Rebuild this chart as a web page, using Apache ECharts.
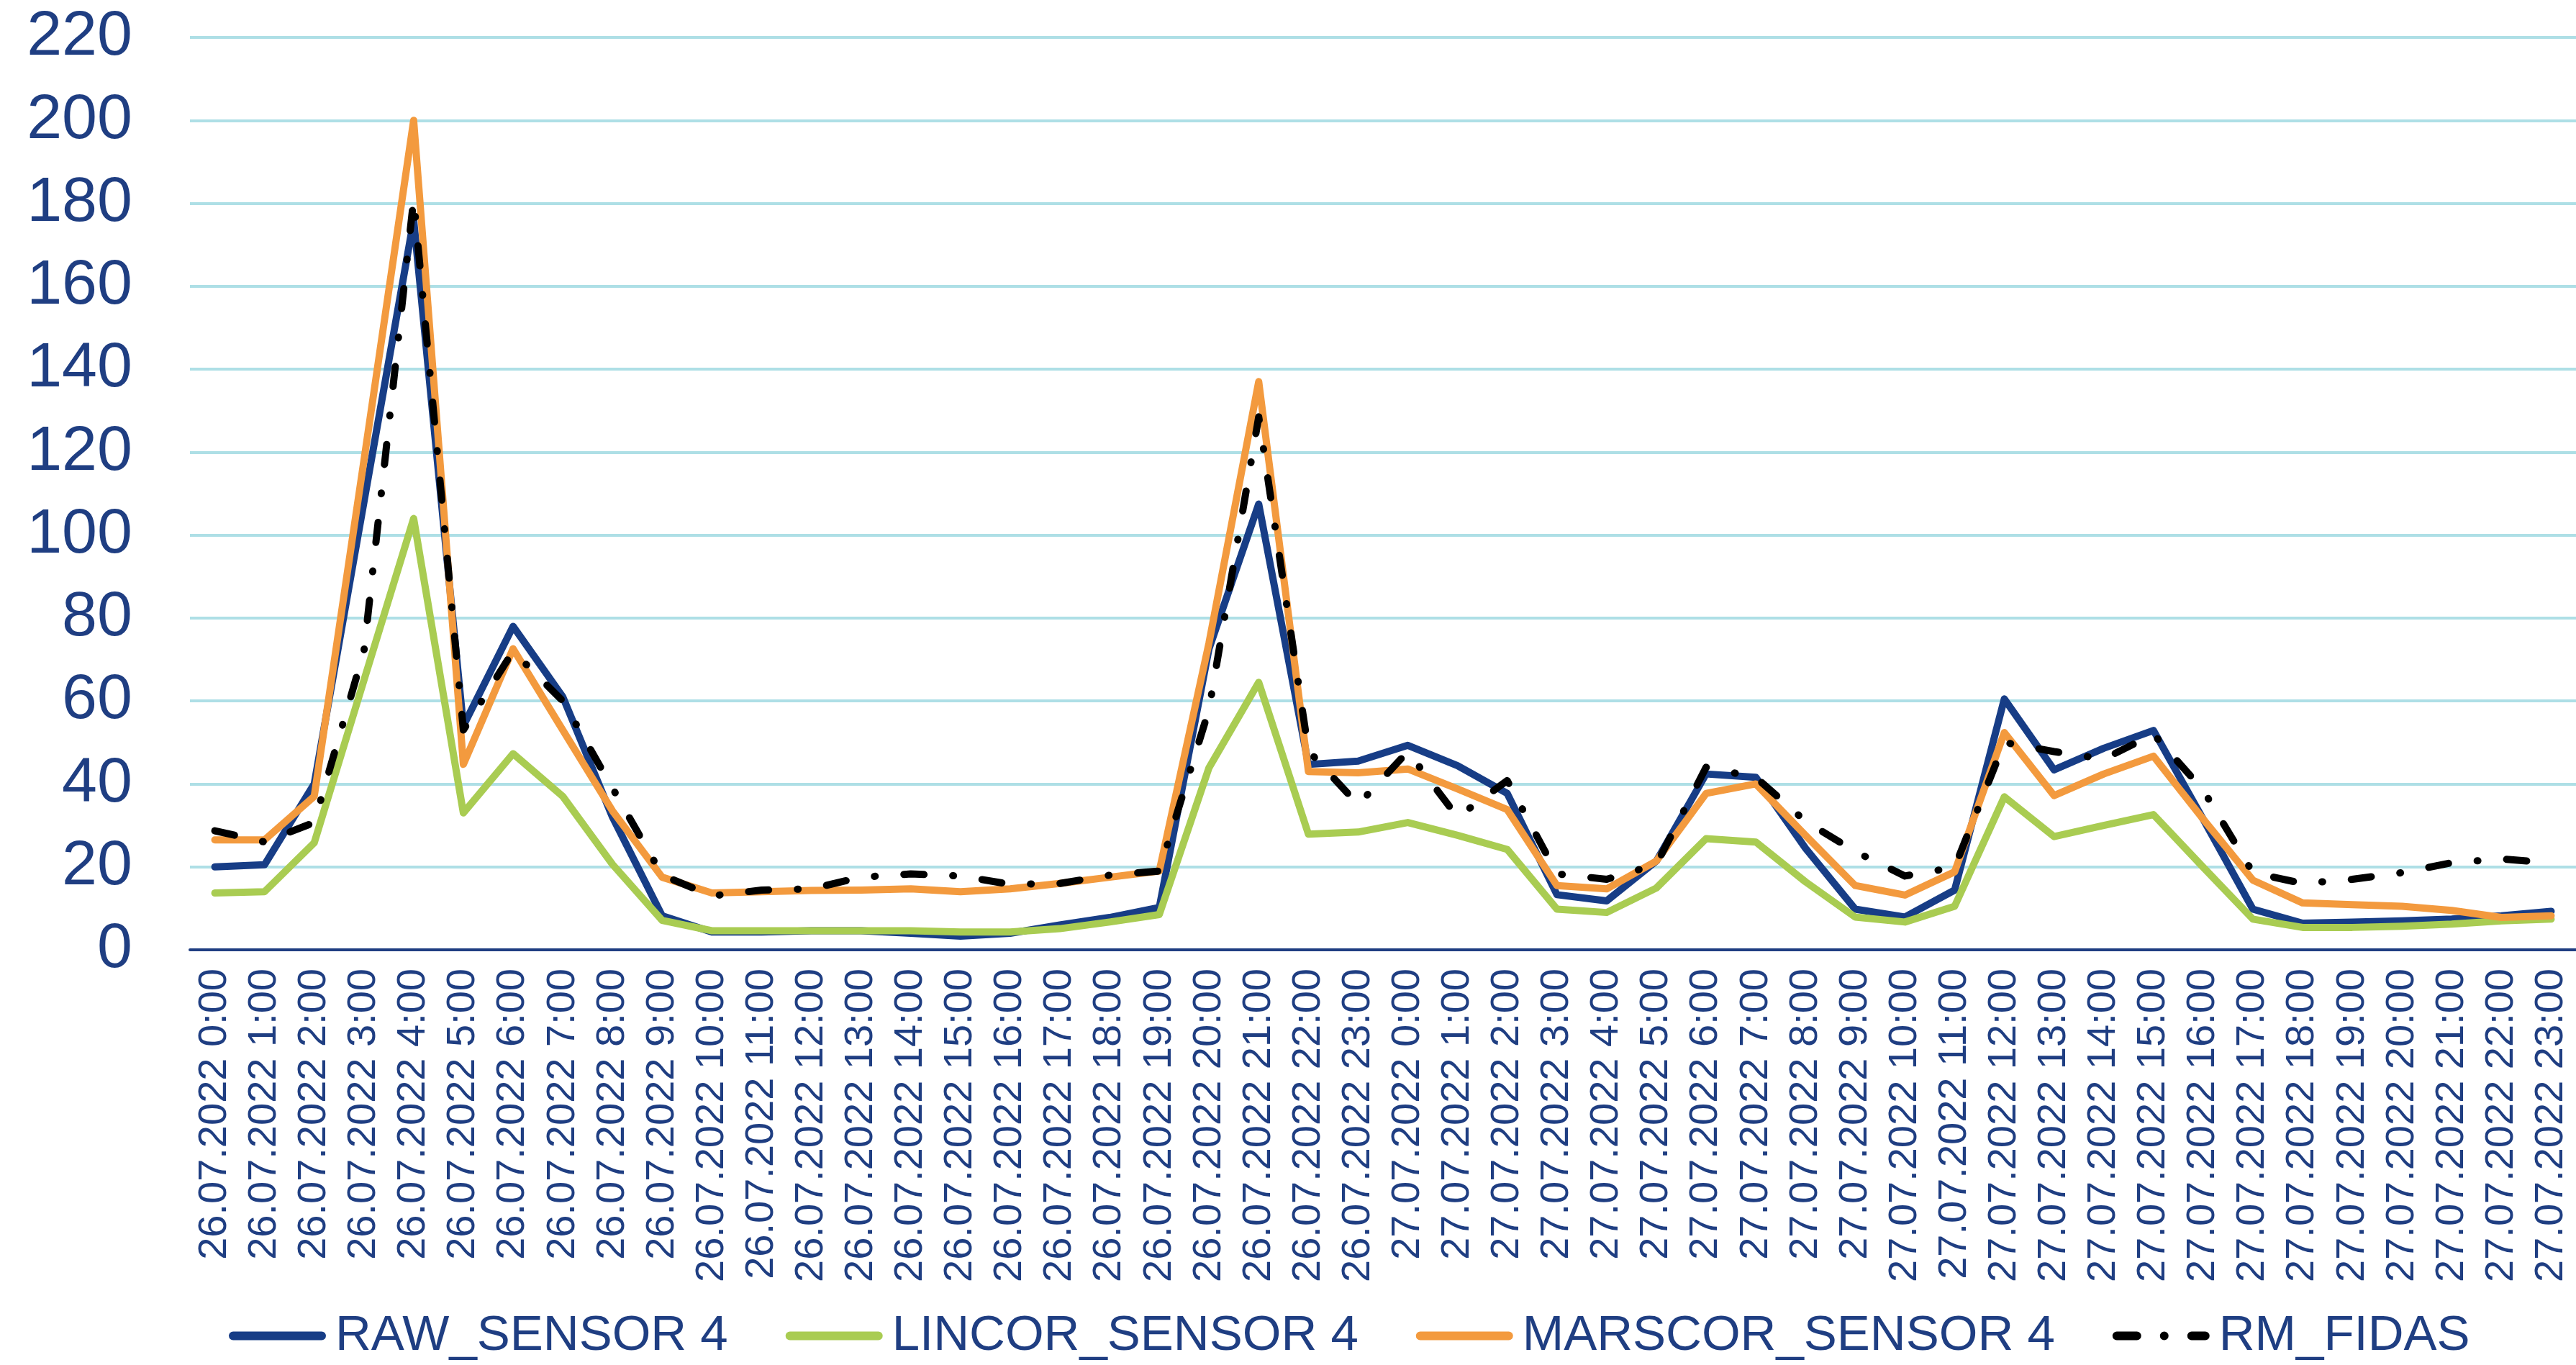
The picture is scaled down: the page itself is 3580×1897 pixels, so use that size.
<!DOCTYPE html>
<html>
<head>
<meta charset="utf-8">
<script src="https://cdn.jsdelivr.net/npm/echarts@6/dist/echarts.min.js"></script>
<style>
  html, body { margin: 0; padding: 0; background: #ffffff; }
  #chart { width: 3580px; height: 1897px; }
</style>
</head>
<body>
<div id="chart"></div>
<script>
// Hourly timestamps, 26.07.2022 0:00 – 27.07.2022 23:00
const categories = [
  '26.07.2022 0:00', '26.07.2022 1:00', '26.07.2022 2:00', '26.07.2022 3:00',
  '26.07.2022 4:00', '26.07.2022 5:00', '26.07.2022 6:00', '26.07.2022 7:00',
  '26.07.2022 8:00', '26.07.2022 9:00', '26.07.2022 10:00', '26.07.2022 11:00',
  '26.07.2022 12:00', '26.07.2022 13:00', '26.07.2022 14:00', '26.07.2022 15:00',
  '26.07.2022 16:00', '26.07.2022 17:00', '26.07.2022 18:00', '26.07.2022 19:00',
  '26.07.2022 20:00', '26.07.2022 21:00', '26.07.2022 22:00', '26.07.2022 23:00',
  '27.07.2022 0:00', '27.07.2022 1:00', '27.07.2022 2:00', '27.07.2022 3:00',
  '27.07.2022 4:00', '27.07.2022 5:00', '27.07.2022 6:00', '27.07.2022 7:00',
  '27.07.2022 8:00', '27.07.2022 9:00', '27.07.2022 10:00', '27.07.2022 11:00',
  '27.07.2022 12:00', '27.07.2022 13:00', '27.07.2022 14:00', '27.07.2022 15:00',
  '27.07.2022 16:00', '27.07.2022 17:00', '27.07.2022 18:00', '27.07.2022 19:00',
  '27.07.2022 20:00', '27.07.2022 21:00', '27.07.2022 22:00', '27.07.2022 23:00'
];

const rawSensor4 = [
  20, 20.5, 40, 108, 176, 54, 78, 61, 32, 8.2, 4.3, 4.3,
  4.6, 4.6, 4, 3.3, 4, 6, 7.8, 10.2, 72.6, 107.5, 44.7, 45.5,
  49.3, 44.4, 37.7, 13.3, 11.8, 21.4, 42.4, 41.6, 24.5, 9.8, 7.9, 14.4,
  60.5, 43.4, 48.6, 52.9, 31.5, 9.8, 6.4, 6.7, 7, 7.4, 8.2, 9.3
];

const lincorSensor4 = [
  13.7, 14, 25.8, 65, 104, 33, 47.3, 37, 20.6, 7.1, 4.6, 4.6,
  4.6, 4.6, 4.6, 4.3, 4.3, 5.1, 6.7, 8.5, 43.9, 64.5, 27.9, 28.4,
  30.7, 27.6, 24.2, 9.8, 9, 14.9, 26.8, 26, 16.4, 7.9, 6.7, 10.5,
  36.9, 27.3, 30, 32.6, 19.9, 7.4, 5.4, 5.4, 5.7, 6.2, 7, 7.4
];

const marscorSensor4 = [
  26.5, 26.5, 37, 118, 200, 44.7, 72.6, 53, 33.5, 17.5, 13.7, 14,
  14.3, 14.4, 14.7, 14, 14.7, 16, 17.5, 19, 74, 137, 43, 42.7,
  43.6, 38.8, 33.8, 15.5, 14.7, 21.4, 37.7, 40, 27.6, 15.5, 13.2, 18.8,
  52.4, 37.2, 42.4, 46.7, 31.5, 16.8, 11.3, 10.9, 10.5, 9.5, 7.8, 8.2
];

const rmFidas = [
  28.7, 26, 30.7, 72, 181, 53, 72, 60, 39, 18, 13, 14.4,
  14.7, 17.5, 18.3, 17.8, 15.8, 16, 18, 19, 58, 128.5, 48, 35,
  47.8, 32, 40.8, 18.3, 17, 20.6, 44, 41.6, 31, 23.7, 17.8, 19.9,
  50, 47.8, 46, 52, 38.5, 18.6, 16, 17, 18.6, 21, 21.9, 21
];

const yTicks = { min: 0, max: 220, step: 20 };

const NAVY = '#1F3E82';
const FONT = '"Liberation Sans", Arial, sans-serif';

// Legend swatches: a thick rounded bar for solid series, dash · dot · dash for the reference line
const ICON_SOLID = 'path://M6,0 L129,0 A6,6 0 0 1 129,12 L6,12 A6,6 0 0 1 6,0 Z';
const ICON_DASHDOT = 'path://M6,0 L34,0 A6,6 0 0 1 34,12 L6,12 A6,6 0 0 1 6,0 Z ' +
  'M72,0 A6,6 0 0 1 72,12 A6,6 0 0 1 72,0 Z ' +
  'M110,0 L129,0 A6,6 0 0 1 129,12 L110,12 A6,6 0 0 1 110,0 Z';

function lineSeries(name, data, color, extra) {
  return {
    name: name,
    type: 'line',
    data: data,
    symbol: 'none',
    showSymbol: false,
    smooth: false,
    lineStyle: Object.assign({ color: color, width: 10, join: 'round', cap: 'round' }, extra || {}),
    itemStyle: { color: color }
  };
}

const COLORS = { raw: '#173D86', lincor: '#A9CC52', marscor: '#F39A3E', fidas: '#000000' };

const chart = echarts.init(document.getElementById('chart'), null, { renderer: 'canvas' });

chart.setOption({
  animation: false,
  backgroundColor: '#ffffff',
  textStyle: { fontFamily: FONT },
  grid: { left: 264, right: 0, top: 52, bottom: 577, containLabel: false },
  legend: {
    left: 313,
    top: 1817,
    itemWidth: 135,
    itemHeight: 12,
    itemGap: 80,
    textStyle: { fontFamily: FONT, fontSize: 69, color: NAVY, padding: [0, 0, 0, 8] },
    data: [
      { name: 'RAW_SENSOR 4', icon: ICON_SOLID, itemStyle: { color: COLORS.raw } },
      { name: 'LINCOR_SENSOR 4', icon: ICON_SOLID, itemStyle: { color: COLORS.lincor } },
      { name: 'MARSCOR_SENSOR 4', icon: ICON_SOLID, itemStyle: { color: COLORS.marscor } },
      { name: 'RM_FIDAS', icon: ICON_DASHDOT, itemStyle: { color: COLORS.fidas } }
    ]
  },
  xAxis: {
    type: 'category',
    data: categories,
    boundaryGap: true,
    axisTick: { show: false },
    axisLine: { lineStyle: { color: NAVY, width: 4 } },
    axisLabel: {
      interval: 0,
      rotate: 90,
      margin: 26,
      fontFamily: FONT,
      fontSize: 56,
      color: NAVY
    },
    splitLine: { show: false }
  },
  yAxis: {
    type: 'value',
    min: yTicks.min,
    max: yTicks.max,
    interval: yTicks.step,
    axisLine: { show: false },
    axisTick: { show: false },
    axisLabel: { fontFamily: FONT, fontSize: 88, color: NAVY, margin: 80 },
    splitLine: { lineStyle: { color: '#AEDFE6', width: 4 } }
  },
  series: [
    lineSeries('RAW_SENSOR 4', rawSensor4, COLORS.raw),
    lineSeries('LINCOR_SENSOR 4', lincorSensor4, COLORS.lincor),
    lineSeries('MARSCOR_SENSOR 4', marscorSensor4, COLORS.marscor),
    lineSeries('RM_FIDAS', rmFidas, COLORS.fidas, { type: [28, 40, 1, 40], cap: 'round' })
  ]
});
</script>
</body>
</html>
